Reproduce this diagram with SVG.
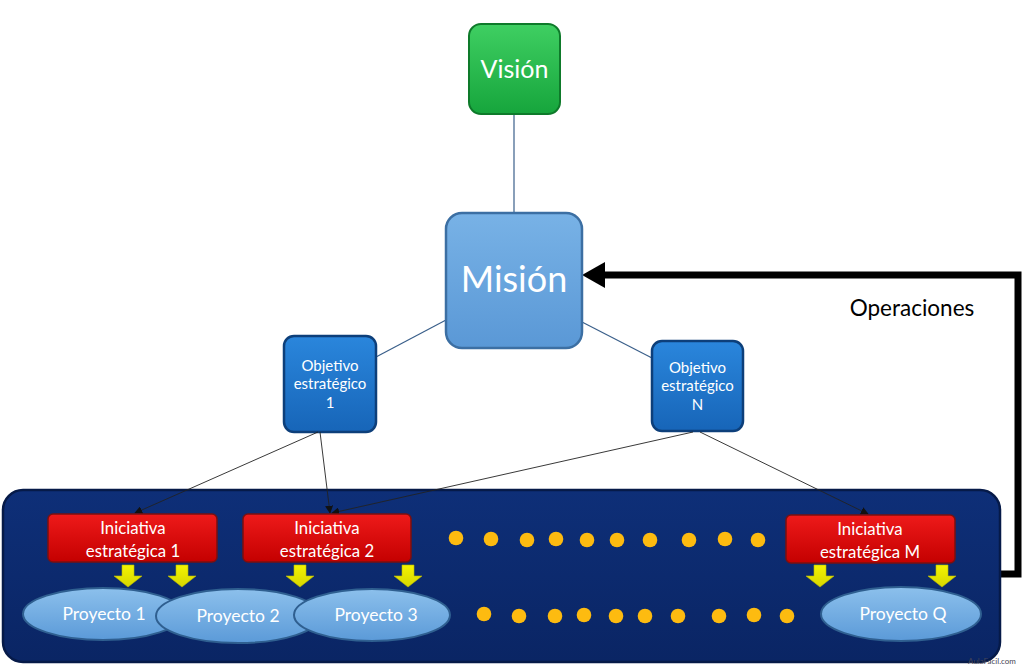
<svg xmlns="http://www.w3.org/2000/svg" width="1024" height="666" viewBox="0 0 1024 666">
<defs>
<style>
text{font-family:Lato,"Open Sans","Liberation Sans",sans-serif;fill:#fff;text-anchor:middle}
.thin{stroke:#3a5f8a;stroke-width:1.2;fill:none}
.arr{stroke:#222;stroke-width:0.9;fill:none;marker-end:url(#ah)}
.dot{fill:#fdbb10}
.ya{fill:url(#gy);stroke:#b8b800;stroke-width:0.6}
.ini{font-size:16.8px}
.pro{font-size:17.5px}
.obj{font-size:15px}
</style>
<marker id="ah" viewBox="0 0 10 10" refX="9" refY="5" markerWidth="8" markerHeight="8" orient="auto" markerUnits="userSpaceOnUse"><path d="M0,0 L10,5 L0,10 z" fill="#111"/></marker>
<linearGradient id="gg" x1="0" y1="0" x2="0" y2="1"><stop offset="0" stop-color="#3fcf62"/><stop offset="1" stop-color="#16a53c"/></linearGradient>
<linearGradient id="gm" x1="0" y1="0" x2="0" y2="1"><stop offset="0" stop-color="#78b2e6"/><stop offset="1" stop-color="#5a98d6"/></linearGradient>
<linearGradient id="go" x1="0" y1="0" x2="0" y2="1"><stop offset="0" stop-color="#2a86dc"/><stop offset="1" stop-color="#1765b8"/></linearGradient>
<linearGradient id="gr" x1="0" y1="0" x2="0" y2="1"><stop offset="0" stop-color="#ee1a1a"/><stop offset="1" stop-color="#c40000"/></linearGradient>
<linearGradient id="ge" x1="0" y1="0" x2="0" y2="1"><stop offset="0" stop-color="#8cc0ec"/><stop offset="1" stop-color="#5b9ad8"/></linearGradient>
<linearGradient id="gy" x1="0" y1="0" x2="0" y2="1"><stop offset="0" stop-color="#f4f400"/><stop offset="1" stop-color="#d6d600"/></linearGradient>
<linearGradient id="gc" x1="0" y1="0" x2="0" y2="1"><stop offset="0" stop-color="#0e2f78"/><stop offset="1" stop-color="#0a2564"/></linearGradient>
</defs>
<rect width="1024" height="666" fill="#fff"/>

<g id="connectors">
<line class="thin" x1="514" y1="114" x2="514" y2="213"/>
<line class="thin" x1="446" y1="320" x2="376" y2="357"/>
<line class="thin" x1="582" y1="322" x2="652" y2="358"/>
<path d="M1000,574 H1018 V275 H604" stroke="#000" stroke-width="7" fill="none"/>
<polygon points="582,275 605,262 605,288" fill="#000"/>
</g>

<g id="vision">
<rect x="469" y="24" width="91" height="90" rx="12" fill="url(#gg)" stroke="#0e7a2a" stroke-width="2"/>
<text x="514.5" y="78" font-size="25">Visión</text>
</g>

<g id="mision">
<rect x="446" y="213" width="136" height="135" rx="16" fill="url(#gm)" stroke="#3c6fa3" stroke-width="2.5"/>
<text x="514" y="292" font-size="36">Misión</text>
</g>

<g id="obj1">
<rect x="284" y="336" width="92" height="96" rx="10" fill="url(#go)" stroke="#0d3f7a" stroke-width="2.5"/>
<text class="obj" x="330" y="371">Objetivo</text>
<text class="obj" x="330" y="389">estratégico</text>
<text class="obj" x="330" y="408">1</text>
</g>

<g id="objN">
<rect x="652" y="341" width="91" height="90" rx="10" fill="url(#go)" stroke="#0d3f7a" stroke-width="2.5"/>
<text class="obj" x="697.5" y="373">Objetivo</text>
<text class="obj" x="697.5" y="391">estratégico</text>
<text class="obj" x="697.5" y="410">N</text>
</g>

<g id="contenedor">
<rect x="3" y="490" width="997" height="172" rx="20" fill="url(#gc)" stroke="#061a48" stroke-width="2.5"/>
</g>

<g id="flechas-objetivos">
<line class="arr" x1="318" y1="432" x2="135" y2="513"/>
<line class="arr" x1="320" y1="432" x2="330" y2="513"/>
<line class="arr" x1="693" y1="432" x2="332" y2="513"/>
<line class="arr" x1="700" y1="432" x2="868" y2="514"/>
</g>

<g id="ini1">
<rect x="48" y="514" width="169" height="48" rx="5" fill="url(#gr)" stroke="#7a1010" stroke-width="1.5"/>
<text class="ini" x="133" y="534">Iniciativa</text>
<text class="ini" x="133" y="557">estratégica 1</text>
</g>
<g id="ini2">
<rect x="243" y="514" width="168" height="48" rx="5" fill="url(#gr)" stroke="#7a1010" stroke-width="1.5"/>
<text class="ini" x="327" y="534">Iniciativa</text>
<text class="ini" x="327" y="557">estratégica 2</text>
</g>
<g id="iniM">
<rect x="786" y="515" width="169" height="48" rx="5" fill="url(#gr)" stroke="#7a1010" stroke-width="1.5"/>
<text class="ini" x="870" y="535">Iniciativa</text>
<text class="ini" x="870" y="558">estratégica M</text>
</g>

<g id="flechas-amarillas">
<path class="ya" d="M122,565 h12 v11 h8 l-14,11 l-14,-11 h8 z"/>
<path class="ya" d="M176,565 h12 v11 h8 l-14,11 l-14,-11 h8 z"/>
<path class="ya" d="M294,565 h12 v11 h8 l-14,11 l-14,-11 h8 z"/>
<path class="ya" d="M402,565 h12 v11 h8 l-14,11 l-14,-11 h8 z"/>
<path class="ya" d="M814,565 h12 v11 h8 l-14,11 l-14,-11 h8 z"/>
<path class="ya" d="M936,565 h12 v11 h8 l-14,11 l-14,-11 h8 z"/>
</g>

<g id="proy1">
<ellipse cx="103" cy="614" rx="80" ry="26" fill="url(#ge)" stroke="#2f5f90" stroke-width="2"/>
<text class="pro" x="104" y="620">Proyecto 1</text>
</g>
<g id="proy2">
<ellipse cx="238" cy="616" rx="82" ry="27" fill="url(#ge)" stroke="#2f5f90" stroke-width="2"/>
<text class="pro" x="238" y="622">Proyecto 2</text>
</g>
<g id="proy3">
<ellipse cx="372" cy="615" rx="78" ry="26" fill="url(#ge)" stroke="#2f5f90" stroke-width="2"/>
<text class="pro" x="376" y="621">Proyecto 3</text>
</g>
<g id="proyQ">
<ellipse cx="901" cy="614" rx="80" ry="27" fill="url(#ge)" stroke="#2f5f90" stroke-width="2"/>
<text class="pro" x="903" y="620">Proyecto Q</text>
</g>

<g id="puntos">
<circle class="dot" cx="456" cy="538" r="7.3"/>
<circle class="dot" cx="491" cy="539" r="7.3"/>
<circle class="dot" cx="527" cy="540" r="7.3"/>
<circle class="dot" cx="556" cy="539" r="7.3"/>
<circle class="dot" cx="587" cy="540" r="7.3"/>
<circle class="dot" cx="617" cy="540" r="7.3"/>
<circle class="dot" cx="650" cy="540" r="7.3"/>
<circle class="dot" cx="689" cy="540" r="7.3"/>
<circle class="dot" cx="725" cy="539" r="7.3"/>
<circle class="dot" cx="758" cy="540" r="7.3"/>
<circle class="dot" cx="484" cy="614" r="7.3"/>
<circle class="dot" cx="519" cy="616" r="7.3"/>
<circle class="dot" cx="555" cy="616" r="7.3"/>
<circle class="dot" cx="584" cy="615" r="7.3"/>
<circle class="dot" cx="616" cy="616" r="7.3"/>
<circle class="dot" cx="645" cy="616" r="7.3"/>
<circle class="dot" cx="678" cy="616" r="7.3"/>
<circle class="dot" cx="719" cy="616" r="7.3"/>
<circle class="dot" cx="754" cy="615" r="7.3"/>
<circle class="dot" cx="787" cy="616" r="7.3"/>
</g>

<text x="912" y="316" font-size="22.5" style="fill:#000">Operaciones</text>
<text x="992" y="664" font-size="8" style="fill:#445">AulaFacil.com</text>
</svg>
